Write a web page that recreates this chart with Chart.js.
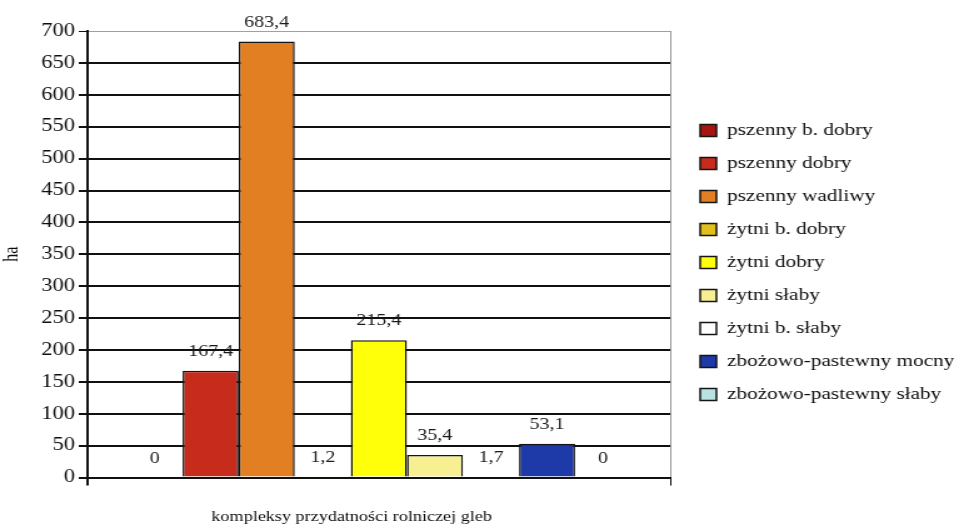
<!DOCTYPE html>
<html lang="pl">
<head>
<meta charset="utf-8">
<title>kompleksy przydatności rolniczej gleb</title>
<script src="https://cdn.jsdelivr.net/npm/chart.js@4.4.0/dist/chart.umd.min.js"></script>
<style>
  html, body { margin: 0; padding: 0; background: #fff; }
  #chart { display: block; }
</style>
</head>
<body>
<!-- the scanned original is stretched sideways, so the canvas is drawn narrower and widened by css -->
<canvas id="chart" width="763" height="529" style="width:954px;height:529px"></canvas>
<script>
// -------- Data --------
const categories = [""];

const seriesNames = [
  "pszenny b. dobry",
  "pszenny dobry",
  "pszenny wadliwy",
  "żytni b. dobry",
  "żytni dobry",
  "żytni słaby",
  "żytni b. słaby",
  "zbożowo-pastewny mocny",
  "zbożowo-pastewny słaby",
];

const seriesValues = [0, 167.4, 683.4, 1.2, 215.4, 35.4, 1.7, 53.1, 0];

const seriesColors = [
  "#a8140f",
  "#c62b1b",
  "#e27f22",
  "#e2bf1c",
  "#ffff0a",
  "#f7ef92",
  "#ffffff",
  "#1d3aa8",
  "#b9e3e2",
];

const yTickValues = [0, 50, 100, 150, 200, 250, 300, 350, 400, 450, 500, 550, 600, 650, 700];

const SERIF = "'Liberation Serif', 'Times New Roman', serif";

// polish decimal comma
function formatPl(v) {
  return String(v).replace(".", ",");
}

// -------- Value labels above the bars --------
const valueLabels = {
  id: "valueLabels",
  afterDatasetsDraw(chart) {
    const ctx = chart.ctx;
    ctx.save();
    ctx.font = "16px " + SERIF;
    ctx.fillStyle = "#1a1a1a";
    ctx.textAlign = "center";
    ctx.textBaseline = "middle";
    chart.data.datasets.forEach((ds, i) => {
      const bar = chart.getDatasetMeta(i).data[0];
      ctx.fillText(formatPl(ds.data[0]), bar.x, bar.y - 19);
    });
    ctx.restore();
  },
};

// -------- Chart --------
new Chart(document.getElementById("chart"), {
  type: "bar",
  data: {
    labels: categories,
    datasets: seriesNames.map((name, i) => ({
      label: name,
      data: [seriesValues[i]],
      backgroundColor: seriesColors[i],
      borderColor: "#151515",
      borderWidth: 1.5,
      categoryPercentage: 0.866,
      barPercentage: 1,
    })),
  },
  options: {
    responsive: false,
    animation: false,
    layout: { padding: { top: 31, right: 0, bottom: 0, left: 0 } },
    plugins: {
      legend: {
        position: "right",
        align: "center",
        fullSize: false,
        maxWidth: 219,
        title: { display: true, text: "", font: { size: 1 }, padding: { top: 0, bottom: 15 } },
        labels: {
          font: { family: SERIF, size: 17 },
          color: "#0d0d0d",
          boxWidth: 13,
          boxHeight: 12,
          padding: 16,
        },
      },
      tooltip: { enabled: false },
    },
    scales: {
      x: {
        grid: {
          offset: true,
          color: (c) => (c.index === 0 ? "#111" : "#9a9a9a"),
          lineWidth: (c) => (c.index === 0 ? 2 : 1),
          tickLength: 8,
          tickColor: "#111",
        },
        border: { color: "#111", width: 2 },
        ticks: { display: false },
        title: {
          display: true,
          // trailing no-break spaces move the centred caption a bit to the left, like the original
          text: "kompleksy przydatności rolniczej gleb" + "\u00a0".repeat(12),
          font: { family: SERIF, size: 14.5 },
          color: "#0d0d0d",
          padding: { top: 23, bottom: 3 },
        },
      },
      y: {
        min: 0,
        max: 700,
        afterBuildTicks: (s) => {
          s.ticks = yTickValues.map((v) => ({ value: v }));
        },
        afterFit: (s) => {
          s.width = 70;
        },
        grid: {
          color: (c) => (c.tick && c.tick.value === 700 ? "#a0a0a0" : "#111"),
          lineWidth: (c) => (c.tick && c.tick.value === 700 ? 1 : 2),
          tickLength: 7,
          tickColor: "#111",
        },
        border: { color: "#111", width: 2 },
        ticks: { font: { family: SERIF, size: 18 }, color: "#0d0d0d", padding: 3 },
        title: {
          display: true,
          text: "ha",
          font: { family: SERIF, size: 16 },
          color: "#0d0d0d",
          padding: { top: 0, bottom: 0 },
        },
      },
      // empty axis only to keep a gap between plot and legend
      spacer: {
        position: "right",
        display: true,
        grid: { display: false },
        border: { display: false },
        ticks: { display: false },
        afterFit: (s) => {
          s.width = 8;
        },
      },
    },
  },
  plugins: [valueLabels],
});
</script>
</body>
</html>
